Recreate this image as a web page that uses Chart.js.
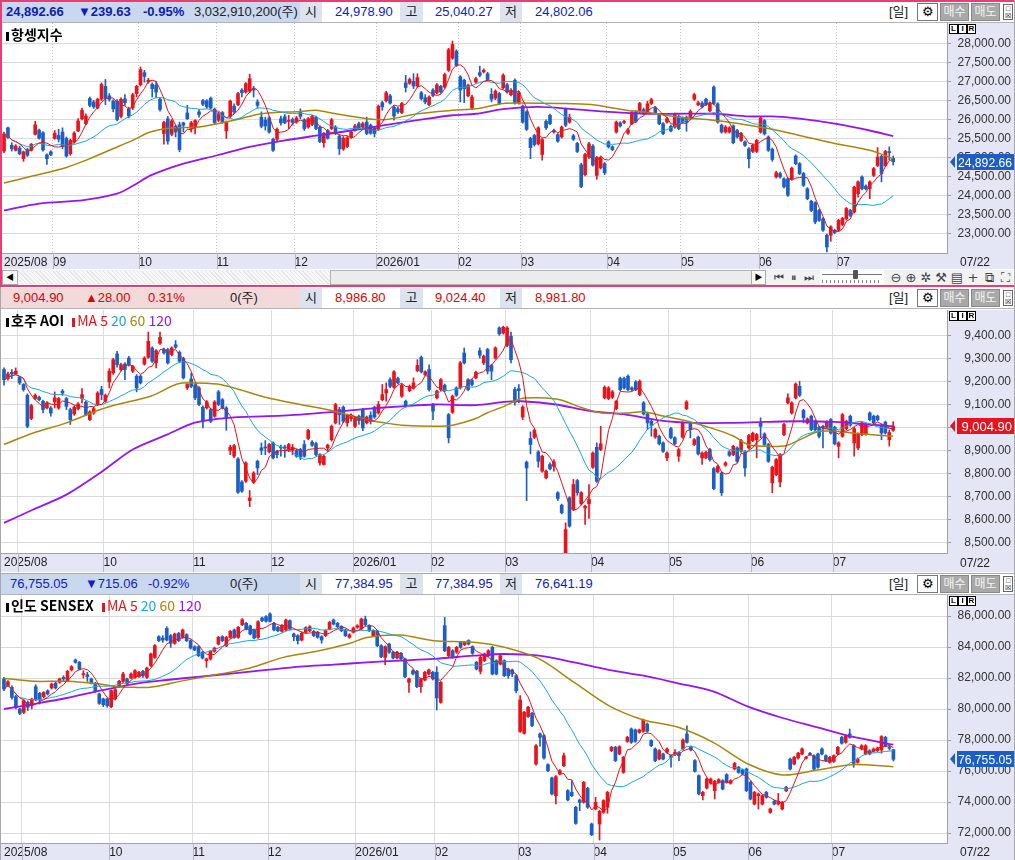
<!DOCTYPE html>
<html><head><meta charset="utf-8">
<script src="https://cdn.jsdelivr.net/npm/chart.js@4.4.1/dist/chart.umd.min.js"></script>
<style>
body{margin:0;background:#fff;width:1015px;height:860px;overflow:hidden;position:relative;font-family:"Liberation Sans","Noto Sans CJK KR",sans-serif;}
.a{position:absolute;white-space:nowrap;}
canvas{position:absolute;left:0;}
.t{position:absolute;white-space:nowrap;font-size:13px;line-height:20px;}
.lbl{position:absolute;height:20px;background:#dde3ee;text-align:center;font-size:13px;line-height:20px;color:#222;}
.btn{position:absolute;height:16px;top:2px;font-size:12px;line-height:16px;text-align:center;}
.lir{position:absolute;font-size:8px;font-weight:bold;line-height:8px;}
.lir span{display:inline-block;width:7px;height:8px;border:1px solid #000;margin-right:0px;text-align:center;background:#fff;}
.ttl{position:absolute;font-size:14px;white-space:nowrap;font-family:"Noto Sans CJK KR","Liberation Sans",sans-serif;line-height:16px;}
.bar{display:inline-block;width:3px;height:9px;margin-right:2px;vertical-align:-1px;}
.ic{position:absolute;top:270px;font-size:13px;line-height:15px;color:#444;text-align:center;width:14px;font-family:"DejaVu Sans",sans-serif;}
</style>
</head><body>
<canvas id="c1" width="1015" height="246" style="top:23px"></canvas>
<canvas id="c2" width="1015" height="262" style="top:310px"></canvas>
<canvas id="c3" width="1015" height="265" style="top:595px"></canvas>
<div id="ov"></div>
<script>
// ===== 항셍지수 (HSI) =====
const hsiOpen=[25170,25780,25320,25190,25250,24970,25210,25190,25610,25720,
25650,25070,25150,25500,25580,25670,25500,25100,25410,25700,
26020,25890,26550,26460,26310,26530,26870,26620,26480,26480,
26080,26540,26280,26300,26680,26910,27230,26990,26920,26900,
26530,25630,26020,25610,25820,25860,25910,26170,25760,25780,
26200,26490,26490,26560,26270,25980,26180,25700,26080,26350,
26390,26770,26720,26740,26810,26460,26060,25980,26040,25480,
25480,26020,26070,25950,26000,25930,26200,25990,25800,25870,
26060,25800,25390,25710,25760,25800,25560,25220,25290,25540,
25720,25890,25800,25930,25850,25780,25740,26440,26490,26620,
26320,26280,26180,26960,26950,27000,26880,26700,26570,26390,
26770,26700,26870,26850,27290,27610,27790,27120,27030,26620,
26300,26980,27230,27250,27200,26660,26560,26680,26830,26910,
26650,27030,26430,26350,26200,25500,25580,25360,25080,25950,
26110,25710,25600,25540,26270,25930,25570,25370,24810,24550,
25020,25300,24530,24730,24840,25410,25280,25670,25910,25920,
25640,25890,26200,26200,26260,26200,26420,26300,26110,25890,
25930,25820,25800,26080,26040,26060,26020,26530,26390,26430,
26530,26230,26850,26410,25850,25670,25670,25830,25710,25450,
25410,25230,25160,25160,25670,25970,25540,25220,24490,24580,
24440,24440,24440,25040,24840,24580,24180,23850,23810,23610,
23390,22960,22960,23090,23090,23240,23390,23610,23570,24050,
24490,24250,24180,24530,24790,25030,24790,25150,24978.90];
const hsiClose=[25620,25530,25230,25300,25100,25150,25060,25350,25860,25510,
25200,24970,25080,25640,25480,25300,25040,25450,25640,25960,
26240,26090,26370,26330,26530,26920,26550,26530,26280,26000,
26530,26440,26090,26650,26870,27310,27130,27030,26810,26720,
26260,25920,25430,25960,25670,25210,25850,26020,25910,25970,
26130,26400,26330,26300,25920,26150,25930,25930,26480,26200,
26680,26700,26940,27070,26770,26370,25820,25830,25670,25190,
25740,25910,25910,25960,25920,26040,26080,25760,26020,26080,
25760,25420,25630,25510,25990,25630,25230,25510,25520,25670,
25830,25760,25890,25630,25640,25630,26350,26330,26700,26430,
26090,26200,26420,26840,27050,26880,27100,26550,26460,26590,
26630,26910,26720,27180,27830,27970,27420,26770,26810,26900,
26590,27070,27160,27290,27050,26530,26740,26420,27160,26720,
26770,26430,26700,25930,25740,25260,25340,25780,25470,25780,
25890,25670,25430,25800,25850,26060,25480,25160,24240,25080,
25360,24800,25000,24990,24600,25280,25210,25930,25830,25950,
25730,26180,25950,26420,26170,26410,26520,26180,25890,25630,
26020,25700,26130,25760,25930,25930,26210,26650,26440,26330,
26390,26420,26420,25930,25670,25800,25780,25390,25540,25630,
25320,24970,25320,25450,26040,25620,25190,24950,24600,24490,
24230,24010,24720,24840,24580,24270,23920,23610,23310,23350,
23090,22650,23180,23030,23350,23400,23660,23480,24220,24360,
24180,24180,24360,24710,25010,24580,25160,25130,24892.66];
const hsiHigh=[25670,25800,25390,25340,25300,25170,25240,25370,25950,25750,
25680,25100,25180,25710,25740,25780,25540,25480,25680,26020,
26300,26150,26590,26500,26560,26960,27050,26680,26520,26520,
26570,26650,26320,26690,26900,27380,27290,27080,26960,26990,
26570,25960,26080,26000,25850,25930,25930,26370,25950,26000,
26260,26530,26520,26590,26300,26190,26210,25960,26510,26410,
26710,26810,26970,27190,26870,26520,26200,26060,26080,25510,
25780,26090,26130,26110,26040,26080,26280,26020,26050,26110,
26090,25830,25660,25740,26030,25840,25590,25550,25550,25710,
25870,25930,25930,26060,25880,25810,26380,26480,26740,26660,
26350,26320,26450,27160,27090,27200,27200,26740,26650,26620,
26810,26940,26900,27220,27870,28060,27830,27150,27060,26930,
26640,27110,27400,27330,27240,26810,26780,26710,27200,26950,
26810,27070,26740,26380,26230,25530,25610,25810,25500,25990,
26140,25750,25630,25830,26300,26140,25610,25400,24850,25110,
25400,25340,25030,25020,24870,25440,25310,25960,25940,25980,
25770,26210,26230,26450,26300,26480,26560,26340,26140,25920,
26060,25850,26170,26110,26070,26090,26250,26690,26480,26470,
26560,26460,26880,26440,25880,25840,25810,25860,25740,25660,
25440,25260,25350,25480,26080,26000,25570,25250,24640,24620,
24470,24470,24750,25070,24870,24610,24210,23880,23840,23640,
23420,22990,23210,23120,23380,23430,23690,23640,24250,24390,
24520,24280,24390,24740,25260,25060,25190,25280,25040.27];
const hsiLow=[25130,25500,25170,25170,25070,24900,25030,25170,25590,25480,
25170,24820,25050,25480,25410,25230,25010,25060,25380,25680,
25990,25860,26330,26290,26280,26500,26390,26480,26200,25960,
26040,26370,26040,26260,26590,26880,26980,26950,26590,26570,
26220,25350,25350,25570,25540,25150,25670,26000,25670,25620,
26060,26360,26290,26280,25890,25940,25900,25500,26050,26150,
26360,26590,26690,26710,26590,26300,25780,25720,25640,25160,
25430,25850,25890,25760,25850,25900,26020,25710,25770,25840,
25730,25390,25270,25480,25730,25600,25080,25190,25260,25510,
25690,25730,25770,25600,25610,25540,25710,26240,26460,26400,
25980,26160,26150,26720,26920,26810,26850,26510,26410,26360,
26600,26670,26690,26820,27260,27580,27390,26460,26440,26590,
26260,26950,27120,27220,27020,26460,26520,26390,26800,26690,
26620,26400,26400,25900,25710,24970,25300,25330,24930,25740,
25860,25640,25400,25510,25810,25900,25450,25130,24210,24520,
24980,24770,24430,24700,24550,25250,25180,25640,25800,25890,
25610,25860,25920,26170,26140,26170,26390,26150,25860,25600,
25900,25670,25770,25730,25900,25690,25990,26500,26360,26300,
26360,26200,26390,25900,25640,25640,25640,25360,25510,25420,
25290,24730,25130,25130,25640,25590,25160,24900,24460,24460,
24200,23980,24410,24810,24550,24240,23890,23580,23260,23320,
23060,22520,22800,23000,23060,23210,23360,23450,23540,23960,
24150,24150,23920,24500,24760,24360,24760,24940,24802.06];
const hsiMonthStart=[13,35,55,75,96,117,133,155,174,194,214];
const hsiMonthLabels=['2025/08','09','10','11','12','2026/01','02','03','04','05','06','07'];
const hsiMa60Idx=[0,7.5,16,22,27,33,37.5,43.5,50,59,66,76,80,85,93,98,106,115,121,128,133,142,150.5,159.5,164,173,182,191,197,204,213,222,228];
const hsiMa60=[24330,24520,24740,24970,25190,25450,25670,25780,25800,25980,26150,26210,26240,26150,26020,26000,26150,26240,26280,26420,26430,26420,26390,26240,26200,26060,25980,25850,25740,25580,25370,25190,24970];
const hsiMa120Idx=[0,9,20.4,29,33.3,37.6,46,54.7,63,72,80.4,89,97.6,106,115,121,128,137,146,155,164,173,182,191,197,204,213,222,228];
const hsiMa120=[23610,23790,23880,24050,24270,24530,24840,25060,25280,25450,25580,25710,25850,25980,26110,26150,26270,26330,26270,26200,26150,26150,26150,26080,26080,26020,25890,25710,25560];
const hsiYTicks=[23000,23500,24000,24500,25000,25500,26000,26500,27000,27500,28000];

// ===== 호주 AOI =====
const aoiOpen=[9251,9212,9239,9232,9217,9186,9139,9038,9125,9130,
9113,9084,9084,9110,9084,9157,9125,9077,9058,9081,
9125,9109,9033,9062,9099,9164,9113,9197,9236,9319,
9251,9275,9301,9244,9222,9222,9275,9304,9345,9280,
9365,9338,9338,9316,9359,9326,9299,9171,9210,9183,
9171,9087,9084,9077,9048,9154,9120,9084,8899,8874,
8862,8762,8765,8681,8762,8852,8910,8913,8893,8932,
8895,8913,8913,8899,8899,8899,8903,8925,8951,8935,
8929,8845,8838,8910,8946,9019,9077,9087,9019,9038,
9004,9048,9077,9019,9052,9087,9062,9120,9149,9207,
9174,9212,9135,9113,9159,9171,9246,9304,9229,9251,
9099,9128,9164,9183,9055,9065,9171,9171,9323,9207,
9203,9215,9333,9280,9338,9269,9301,9432,9410,9356,
9396,9164,9168,9044,8848,8951,8956,8893,8809,8780,
8838,8830,8715,8661,8454,8693,8642,8768,8667,8649,
8667,8826,8913,8903,9128,9125,9130,9081,9212,9212,
9222,9171,9197,9142,9106,9058,9026,8957,8961,8932,
8867,8994,8954,8874,8957,9081,9015,8925,8957,8867,
8867,8903,8820,8806,8801,8835,8893,8881,8910,8896,
8893,8910,8942,8946,9019,8971,8925,8758,8794,8762,
8968,9106,9062,9128,9178,9073,9019,9048,9026,8999,
9004,9000,9033,9000,8917,8961,8994,9048,8932,8910,
8968,8971,9062,9048,9048,9009,9022,8946,8986.80];
const aoiClose=[9207,9232,9232,9244,9193,9164,9004,9094,9139,9120,
9077,9106,9062,9128,9125,9149,9091,9033,9087,9101,
9142,9055,9067,9081,9149,9142,9139,9244,9294,9272,
9272,9251,9272,9265,9171,9193,9301,9374,9287,9333,
9391,9323,9280,9345,9348,9287,9215,9186,9178,9128,
9099,9026,9110,9026,9110,9099,9084,9041,8913,8920,
8717,8722,8845,8693,8801,8823,8899,8910,8925,8867,
8881,8910,8910,8925,8913,8874,8871,8874,8986,8922,
8881,8881,8874,8922,9004,9099,9055,9026,9052,9048,
9041,9029,8997,9044,9026,9044,9099,9142,9164,9178,
9241,9193,9183,9091,9178,9193,9269,9241,9241,9164,
9070,9157,9207,9159,8954,9135,9139,9280,9280,9164,
9186,9239,9313,9309,9244,9244,9345,9406,9435,9432,
9294,9109,9159,9088,8823,8925,8986,8852,8874,8809,
8819,8849,8690,8628,8555,8570,8751,8715,8715,8656,
8686,8888,8765,8928,9174,9171,9154,9113,9164,9171,
9164,9164,9164,9200,9058,9019,9009,8990,8928,8895,
8888,8954,8928,8903,9019,9110,8990,8946,8884,8888,
8891,8859,8733,8829,8715,8845,8878,8917,8852,8942,
8823,8964,8974,8968,9004,8925,8852,8826,8859,8881,
9012,9128,9106,9188,9139,9041,9036,8990,8990,8961,
8997,9023,8975,8928,8932,9055,9026,9009,8994,8971,
9019,9012,9033,9019,9033,8975,8975,8977,9004.90];
const aoiHigh=[9258,9240,9251,9258,9222,9190,9145,9100,9145,9136,
9118,9112,9090,9154,9130,9164,9130,9083,9093,9107,
9168,9115,9072,9087,9155,9178,9145,9255,9300,9330,
9279,9281,9308,9270,9229,9228,9307,9414,9350,9338,
9414,9344,9344,9350,9377,9332,9305,9190,9236,9188,
9177,9093,9116,9083,9116,9160,9125,9090,8922,8926,
8868,8768,8850,8725,8807,8857,8932,8942,8930,8937,
8900,8922,8922,8930,8925,8904,8908,8942,8991,8942,
8935,8886,8879,8927,9010,9104,9087,9093,9057,9058,
9046,9053,9082,9049,9067,9092,9113,9186,9193,9215,
9247,9218,9188,9118,9184,9215,9294,9310,9246,9272,
9104,9162,9212,9188,9060,9140,9176,9286,9345,9212,
9210,9244,9345,9314,9344,9274,9350,9437,9440,9438,
9414,9174,9186,9094,8853,8980,8991,8898,8879,8815,
8845,8859,8720,8666,8584,8698,8773,8773,8720,8661,
8751,8893,8932,9004,9180,9177,9160,9118,9218,9218,
9228,9176,9203,9206,9112,9063,9031,8995,8966,8937,
8893,9000,8959,8908,9024,9116,9020,8951,8962,8893,
8896,8908,8825,8834,8806,8850,8898,8922,8915,8947,
8898,8969,8979,8973,9041,8976,8930,8831,8864,8886,
9017,9145,9111,9193,9200,9078,9041,9053,9031,9004,
9009,9028,9038,9005,8937,9060,9031,9053,8999,8976,
9024,9017,9067,9053,9053,9014,9027,8988,9024.40];
const aoiLow=[9183,9205,9212,9228,9186,9157,8998,9033,9120,9115,
9062,9080,9048,9084,9078,9139,9077,9012,9052,9075,
9106,9050,9029,9056,9094,9120,9108,9171,9230,9261,
9245,9207,9266,9238,9154,9188,9270,9300,9282,9258,
9360,9318,9275,9310,9343,9282,9210,9164,9172,9120,
9094,8997,9079,9020,9043,9094,9079,8987,8881,8868,
8712,8716,8760,8655,8756,8794,8881,8881,8888,8862,
8867,8874,8869,8894,8881,8869,8859,8869,8946,8917,
8876,8835,8835,8895,8940,9014,9012,9020,9004,9026,
8998,9012,8985,9014,9014,9039,9057,9115,9113,9171,
9169,9188,9130,9087,9154,9166,9241,9236,9224,9157,
9033,9123,9159,9154,8932,9060,9134,9166,9275,9159,
9180,9210,9301,9272,9232,9207,9296,9400,9405,9350,
9280,9096,9106,9033,8681,8884,8951,8826,8804,8775,
8814,8809,8681,8623,8450,8565,8637,8704,8662,8577,
8603,8821,8760,8898,9123,9120,9125,9076,9159,9166,
9159,9159,9159,9137,9053,8990,8961,8952,8923,8890,
8855,8949,8923,8852,8952,9076,8954,8920,8879,8838,
8862,8852,8728,8801,8703,8830,8873,8876,8847,8891,
8787,8905,8937,8867,8954,8920,8847,8715,8789,8740,
8963,9101,9057,9123,9134,9019,9014,8985,8985,8954,
8910,8995,8970,8923,8867,8956,8989,9004,8874,8903,
8963,8966,9028,9014,9028,8946,8970,8918,8981.80];
const aoiMonthStart=[4,26,49,69,90,110,129,151,171,192,213];
const aoiMonthLabels=['2025/08','','10','11','12','2026/01','02','03','04','05','06','07'];
const aoiMa60Idx=[0,7.5,16,24.7,29,37.6,44.4,48.7,54.7,59,67.6,76,84.7,93,97.6,102,110.5,115,121,123.8,128.2,132.7,137.1,142.5,147.9,153.2,159.5,163.9,169.3,174.6,181.8,187.1,190.7,195.2,200.5,204.1,208.6,213,217.5,222,228];
const aoiMa60=[8925,8975,9019,9077,9099,9135,9188,9193,9188,9171,9128,9099,9070,9033,9019,9009,9004,9009,9038,9062,9091,9125,9128,9120,9087,9062,9062,9067,9048,9029,8994,8961,8925,8917,8920,8946,8980,8983,8975,8968,8961];
const aoiMa120Idx=[0,7.5,16,24.7,33,41.8,48.7,54.7,59,67.6,76,84.7,93,102,110.5,121,128.2,132.7,141.6,150.5,159.5,168.4,177.3,186.3,195.2,204.1,213,222,228];
const aoiMa120=[8584,8642,8707,8802,8903,8968,9019,9036,9043,9048,9055,9067,9080,9091,9099,9096,9110,9113,9099,9070,9055,9029,9019,9019,9023,9026,9023,9012,9004];
const aoiYTicks=[8500,8600,8700,8800,8900,9000,9100,9200,9300,9400];

// ===== 인도 SENSEX =====
const sxOpen=[81940,81510,81400,80800,80000,79790,80430,80220,81440,81010,
80790,81180,81360,81660,81720,82040,81830,82520,83160,83010,
82220,82210,81940,81660,80970,80650,80650,80150,80650,81440,
81780,81940,82000,82040,82090,82430,82040,82800,83330,84670,
84580,85200,84730,84240,84880,84620,84800,84410,84020,84020,
83660,83120,83230,83720,84190,84670,84080,84620,85100,84620,
85440,85530,85360,85100,84620,85870,85960,86130,85530,85270,
85010,85100,85700,84840,84730,84450,84950,85050,85010,84950,
84670,84730,85160,85740,85530,85330,85100,84620,84950,85270,
85160,85800,85380,84730,85010,84090,83330,84190,83660,83290,
83590,83230,81720,82470,82430,81440,81870,82260,82370,82370,
80430,85380,83440,83760,83660,84300,84150,84410,
84020,83010,82430,83120,83440,83980,83120,82900,83120,82580,
82520,82150,78560,78430,79510,79720,76450,78390,78280,76410,
75550,74410,75810,76340,74730,74620,73660,74130,73980,74880,
72580,73550,72580,73330,73660,77310,77530,77100,75910,77910,
78710,78650,78500,78560,79030,77960,77420,76770,77100,77210,
76990,77100,77200,77420,78390,77570,76670,75700,74410,74900,
75210,74730,75270,75380,75760,75210,76130,76240,76060,76130,
75270,73870,74410,73870,74620,73330,74040,73870,73550,74730,
76770,76450,76840,77100,76820,77140,76990,77100,77420,76990,
76560,76620,77100,78170,77850,78390,77630,76560,77420,77100,
77310,77270,77310,77360,78170,77480,77384.95];
const sxClose=[81290,81760,80750,80110,79720,80540,80110,80640,80580,80580,
81070,80970,81610,81360,81940,81940,82430,82730,83010,82580,
82260,82090,81660,81140,80360,80280,80220,81180,81250,81790,
82260,81660,82260,82470,82370,82150,82640,83550,84090,84410,
84450,84450,84240,84840,84410,85100,84410,83930,83810,83440,
83290,83230,83720,83930,84620,84410,84620,85010,84620,85270,
85760,85160,84840,84580,85630,85700,85660,85660,85100,85050,
85380,85740,85160,84670,84410,84880,85250,85310,84730,84620,
84450,85050,85590,85480,85310,85050,84730,84790,85230,85380,
85800,85440,85050,85050,84090,83380,84020,83660,83290,83660,
83230,82090,81940,82260,81440,81940,82370,82520,81940,80710,
81720,83760,83980,83330,83980,83980,84300,84190,
83590,82580,83330,83550,83760,82260,82260,83440,82150,82150,
82260,81180,80580,79790,80110,78930,77630,78170,76840,76020,
74520,75630,76020,76990,74130,74410,72620,73980,75270,73660,
71890,73980,73400,74090,74620,77530,76670,77570,76880,78170,
77850,77910,78650,79290,78560,77630,76670,77310,76770,77420,
76880,77200,76990,78000,77850,77360,75980,74520,74620,75480,
75480,75330,75440,74840,75270,75380,76490,75910,75810,74730,
74190,74620,74520,74410,74300,73550,73870,74040,73980,74950,
76130,76880,77140,77420,76880,77060,76130,76240,77100,76670,
76880,76990,77530,77790,78280,78170,76490,76770,77630,77630,
77100,77420,77480,78220,77630,77470,76755.05];
const sxHigh=[82040,81830,81500,80900,80050,80600,80520,80700,81570,81070,
81120,81240,81680,81720,82000,82150,82500,82800,83230,83070,
82470,82370,82000,81720,81030,80700,80700,81240,81310,81850,
82370,82000,82330,82540,82430,82500,82700,83610,84150,84730,
84730,85310,84800,84900,84950,85160,84860,84470,84080,84080,
83720,83290,83780,83990,84690,84730,84690,85070,85160,85330,
85830,85590,85420,85160,85700,85930,86020,86200,85590,85330,
85440,85800,85760,84900,84790,84950,85310,85380,85070,85010,
84730,85110,85660,85810,85590,85380,85160,84860,85290,85440,
85870,85990,85440,85110,85070,84150,84080,84260,83720,83720,
83660,83290,82000,82540,82500,82000,82430,82580,82430,82730,
81780,85910,84040,83830,84040,84370,84370,84470,
84080,83070,83400,83610,83830,84040,83180,83510,83180,82640,
82580,82220,80860,79850,80170,79790,77700,78460,78350,76470,
75610,75700,76090,77160,74800,75360,73720,74190,75330,74950,
72640,74300,73460,74150,74690,77590,77590,77630,76950,78240,
78780,78710,78710,79350,79100,78020,77490,77380,77160,77490,
77050,77380,77260,78070,78910,77630,76730,75760,74690,75550,
75550,75400,75510,75440,75830,75440,76560,76300,76130,76190,
75330,74690,74580,74470,74690,73610,74110,74560,74040,75010,
76840,76950,77210,77490,76950,77210,77050,77160,77490,77050,
76950,77050,77590,78240,78350,78710,77700,76840,77700,77700,
77380,77490,77550,78280,78240,77700,77384.95];
const sxLow=[81180,81440,80640,80000,79630,79700,79900,80000,80530,80320,
80730,80900,81290,81290,81660,81790,81760,82450,82950,82520,
82000,81780,81610,81070,80300,80150,80110,80080,80590,81380,
81720,81610,81940,81980,82040,82040,81980,82730,83260,84350,
84300,84390,83980,84170,84350,84560,84350,83870,83760,83380,
83230,82690,83160,83660,84130,84350,84020,84560,84560,84560,
85380,85100,84780,84520,84560,85640,85600,85600,85040,84990,
84950,85040,85100,84410,84190,84390,84900,84990,84670,84560,
84240,84670,85100,85420,85250,84990,84670,84560,84900,85210,
85100,85380,84990,84670,84020,83310,82860,83590,83230,83230,
83160,82020,81070,82200,81380,81070,81810,82200,81870,79940,
80370,83700,83380,83270,83590,83910,84090,84130,
83530,82520,82260,83060,83380,82200,82200,82840,82090,81980,
82090,81040,78490,78370,79450,78860,76380,77600,76770,75960,
74460,73870,75740,76280,74070,74350,72560,73440,73920,73590,
71830,73490,71550,73270,73270,77250,76610,77040,75850,77850,
77780,77850,78430,78500,78500,77570,76610,76710,76710,77150,
76240,76990,76670,77360,77790,77300,75920,74460,74130,74840,
75150,74190,75210,74780,75210,75150,76070,75850,75740,74670,
74130,73810,73550,73810,74240,73270,73810,73810,73490,74670,
76070,76390,76770,77040,76770,77000,76070,76180,77040,76610,
76500,76560,77040,77730,77790,78110,76240,76500,77360,77040,
77040,77210,77250,77150,77570,77360,76641.19];
const sxMonthStart=[5,27,48,67,89,109,130,149,169,188,209];
const sxMonthLabels=['2025/08','','10','11','12','2026/01','02','03','04','05','06','07'];
const sxMa60Idx=[0,7.4,15.8,24.2,28.4,32.6,36.8,45.2,53.6,62,70.4,78.8,87.2,91.4,99.8,108.2,118.3,126,134.8,143.6,152.3,161.1,169.8,178.6,187.4,196.1,204.9,213.6,224];
const sxMa60=[81980,81790,81790,81610,81440,81400,81400,81830,82220,82650,83330,83720,84240,84620,84770,84410,84300,83980,83230,81720,80220,79290,78820,77850,76450,75740,76060,76410,76280];
const sxMa120Idx=[0,7.4,15.8,24.2,32.6,41,49.4,57.8,66.2,74.6,83,91.4,99.8,108.2,118.3,126,134.8,143.6,152.3,161.1,169.8,178.6,187.4,196.1,204.9,213.6,224];
const sxMa120=[80000,80320,80710,81180,81610,81870,82090,82300,82520,82730,82860,83010,83120,83230,83440,83550,83440,83010,82520,82150,81660,81140,80150,79420,78820,78210,77700];
const sxYTicks=[72000,74000,76000,78000,80000,82000,84000,86000];

// ===== rendering =====
const RED='#e8141c', BLUE='#1b5fc6';
const FONT="'Liberation Sans','Noto Sans CJK KR',sans-serif";
const LAV='#e5e6f5';
function sma(arr,n){return arr.map((_,i)=>{const s=Math.max(0,i-n+1);let t=0;for(let k=s;k<=i;k++)t+=arr[k];return t/(i-s+1);});}
const fmt=v=>Number(v).toLocaleString('en-US',{minimumFractionDigits:2,maximumFractionDigits:2});
const pts=(xs,ys)=>ys.map((y,i)=>({x:xs[i],y}));

function panel(id,d){
  const col=d.close.map((c,i)=>c>=d.open[i]?RED:BLUE);
  const idx=d.close.map((_,i)=>i);
  const ma5=sma(d.close,5), ma20=sma(d.close,20);
  const plug={id:'p'+id,
    beforeDraw(ch){const c=ch.ctx,a=ch.chartArea;c.save();c.fillStyle=LAV;c.fillRect(0,0,ch.width,ch.height);c.fillStyle='#fff';c.fillRect(a.left,a.top,a.right-a.left,a.bottom-a.top);c.restore();},
    afterDraw(ch){
      const c=ch.ctx,a=ch.chartArea,xs=ch.scales.x,ys=ch.scales.y;
      c.save();c.strokeStyle='#b4b4c6';c.lineWidth=1;
      xs.ticks.forEach((t,i)=>{if(i===0)return;const px=Math.round(xs.getPixelForValue(t.value))+0.5;c.beginPath();c.moveTo(px,a.bottom);c.lineTo(px,ch.height);c.stroke();});
      const v=d.close[d.close.length-1];const py=Math.round(ys.getPixelForValue(v));
      const x0=a.right+3;c.fillStyle=d.tag;
      c.beginPath();c.moveTo(x0,py);c.lineTo(x0+5,py-6);c.lineTo(x0+5,py+6);c.closePath();c.fill();
      const bx=x0+7,bw=ch.width-bx-1;
      c.fillRect(bx,py-8,bw,16);
      c.fillStyle='#fff';c.font="13px "+FONT;c.textBaseline='middle';
      const txt=fmt(v),w=c.measureText(txt).width,sc=Math.min(1,(bw-3)/w);
      c.translate(bx+bw-2,py+1);c.scale(sc,1);c.textAlign='right';c.fillText(txt,0,0);
      c.restore();
    }};
  new Chart(document.getElementById(id),{
    type:'bar',
    data:{datasets:[
      {type:'line',data:pts(idx,ma5),borderColor:'#e4141c',borderWidth:1,pointRadius:0,order:1},
      {type:'line',data:pts(idx,ma20),borderColor:'#1aa8d6',borderWidth:1,pointRadius:0,order:2},
      {type:'line',data:pts(d.ma60x,d.ma60),borderColor:'#a8860c',borderWidth:1.5,pointRadius:0,tension:0.3,order:3},
      {type:'line',data:pts(d.ma120x,d.ma120),borderColor:'#9416f2',borderWidth:1.8,pointRadius:0,tension:0.3,order:4},
      {data:idx.map(i=>({x:i,y:[d.open[i],d.close[i]]})),backgroundColor:col,barThickness:3,minBarLength:1,grouped:false,order:10},
      {data:idx.map(i=>({x:i,y:[d.low[i],d.high[i]]})),backgroundColor:col,barThickness:1,grouped:false,order:11}
    ]},
    options:{responsive:false,animation:false,devicePixelRatio:1,
      layout:{autoPadding:false,padding:{left:0,right:4,top:0,bottom:0}},
      plugins:{legend:{display:false},tooltip:{enabled:false}},
      scales:{
        x:{type:'linear',min:d.xmin,max:d.xmax,offset:false,
          afterBuildTicks:s=>{s.ticks=[{value:0}].concat(d.months.map(m=>({value:m-0.5})));},
          afterFit:s=>{s.height=d.strip;s.paddingLeft=0;s.paddingRight=0;},
          ticks:{autoSkip:false,maxRotation:0,minRotation:0,align:'start',padding:2,color:'#222',font:{size:12,family:FONT},callback:(v,i)=>d.labels[i]},
          grid:{color:c=>c.index===0?'rgba(0,0,0,0)':d.vgrid,drawTicks:false,offset:false},
          border:{display:true,color:'#a0a0a8',dash:d.dotted?[1,2]:[]}},
        y:{position:'right',min:d.ymin,max:d.ymax,
          afterBuildTicks:s=>{s.ticks=d.yticks.map(v=>({value:v}));},
          afterFit:s=>{s.width=64;s.paddingTop=0;s.paddingBottom=0;},
          ticks:{crossAlign:'far',color:'#333',font:{size:12,family:FONT},callback:v=>fmt(v)},
          grid:{color:'#dadada',drawTicks:true,tickLength:4,tickColor:'#9a9aa8'},
          border:{color:'#a0a0a8'}}
      }},
    plugins:[plug]});
}

panel('c1',{open:hsiOpen,close:hsiClose,high:hsiHigh,low:hsiLow,months:hsiMonthStart,labels:hsiMonthLabels,
  ma60x:hsiMa60Idx,ma60:hsiMa60,ma120x:hsiMa120Idx,ma120:hsiMa120,yticks:hsiYTicks,
  ymin:22493,ymax:28533,xmin:-1.03,xmax:241.8,strip:16,dotted:true,vgrid:'#c4c4c4',tag:'#1b5fc6'});
panel('c2',{open:aoiOpen,close:aoiClose,high:aoiHigh,low:aoiLow,months:aoiMonthStart,labels:aoiMonthLabels,
  ma60x:aoiMa60Idx,ma60:aoiMa60,ma120x:aoiMa120Idx,ma120:aoiMa120,yticks:aoiYTicks,
  ymin:8453,ymax:9510,xmin:-1.03,xmax:241.8,strip:19,dotted:false,vgrid:'#dcdcdc',tag:'#e8141c'});
panel('c3',{open:sxOpen,close:sxClose,high:sxHigh,low:sxLow,months:sxMonthStart,labels:sxMonthLabels,
  ma60x:sxMa60Idx,ma60:sxMa60,ma120x:sxMa120Idx,ma120:sxMa120,yticks:sxYTicks,
  ymin:71355,ymax:87355,xmin:-1.0,xmax:237.5,strip:17,dotted:false,vgrid:'#dcdcdc',tag:'#1b5fc6'});

// ===== header / overlays (text) =====
const ov=document.getElementById('ov');
function el(html){ov.insertAdjacentHTML('beforeend',html);}
function header(top,bg,items,vals,vcol){
  el(`<div class="a" style="left:1px;top:${top}px;width:1013px;height:20px;background:#fff"></div>`);
  el(`<div class="a" style="left:1px;top:${top}px;width:299px;height:20px;background:${bg}"></div>`);
  items.forEach(([x,txt,c,b])=>el(`<div class="t" style="left:${x}px;top:${top}px;color:${c};font-weight:${b?'bold':'normal'}">${txt}</div>`));
  [['시',300,22],['고',400,23],['저',500,22]].forEach(([t,x,w],k)=>{
    el(`<div class="lbl" style="left:${x}px;top:${top}px;width:${w}px">${t}</div>`);
    el(`<div class="t" style="left:${x+35}px;top:${top}px;color:${vcol}">${vals[k]}</div>`);
  });
  el(`<div class="t" style="left:889px;top:${top}px;color:#222">[일]</div>`);
  el(`<div class="btn" style="left:917px;top:${top+1}px;width:19px;border:1px solid #777;background:#fff;font-size:13px">⚙</div>`);
  el(`<div class="btn" style="left:940px;top:${top+1}px;width:27px;border:1px solid #888;background:#a9a9a9;color:#f4f4f4">매수</div>`);
  el(`<div class="btn" style="left:971px;top:${top+1}px;width:27px;border:1px solid #888;background:#a9a9a9;color:#f4f4f4">매도</div>`);
  el(`<div class="btn" style="left:1003px;top:${top+2}px;width:8px;height:14px;border:1px solid #666;background:#fff;font-size:7px;line-height:7px">□<br>☒</div>`);
  el(`<div class="a" style="left:1px;top:${top+20}px;width:1013px;height:1px;background:#b4b4b4"></div>`);
}
header(2,'#c9d7ef',[[6,'24,892.66','#0c1eb0',1],[78,'▼239.63','#0c1eb0',1],[143,'-0.95%','#0c1eb0',1],[194,'3,032,910,200(주)','#222',0]],['24,978.90','25,040.27','24,802.06'],'#1020c8');
header(288,'#f2d9da',[[13,'9,004.90','#e00000',0],[85,'▲28.00','#e00000',0],[148,'0.31%','#e00000',0],[230,'0(주)','#222',0]],['8,986.80','9,024.40','8,981.80'],'#e00000');
header(574,'#c9d7ef',[[10,'76,755.05','#1020c8',0],[85,'▼715.06','#1020c8',0],[148,'-0.92%','#1020c8',0],[230,'0(주)','#222',0]],['77,384.95','77,384.95','76,641.19'],'#1020c8');

// titles
el(`<div class="ttl" style="left:6px;top:26px;font-weight:bold"><span class="bar" style="background:#000"></span>항셍지수</div>`);
const leg=`<span style="font-weight:normal;margin-left:8px"><span class="bar" style="background:#e4141c"></span><span style="color:#e4141c">MA 5</span> <span style="color:#1aa8d6">20</span> <span style="color:#a8860c">60</span> <span style="color:#9416f2">120</span></span>`;
el(`<div class="ttl" style="left:6px;top:312px"><b><span class="bar" style="background:#000"></span>호주 AOI</b>${leg}</div>`);
el(`<div class="ttl" style="left:6px;top:597px"><b><span class="bar" style="background:#000"></span>인도 SENSEX</b>${leg}</div>`);

// LIR boxes and date corner
[[24],[311],[596]].forEach(([t])=>el(`<div class="lir" style="left:949px;top:${t}px"><span>L</span><span>I</span><span>R</span></div>`));
[[254],[555],[844]].forEach(([t])=>el(`<div class="a" style="left:960px;top:${t}px;font-size:12px;line-height:16px;color:#222">07/22</div>`));

// scrollbar row
el(`<div class="a" style="left:2px;top:270px;width:1011px;height:15px;background:#f2f2f2"></div>`);
el(`<div class="a" style="left:2px;top:270px;width:14px;height:13px;border:1px solid #aaa;background:#fafafa;font-size:8px;line-height:13px;text-align:center">◀</div>`);
el(`<div class="a" style="left:18px;top:271px;width:312px;height:13px;background:repeating-linear-gradient(45deg,#e6e6e6 0 1px,#f8f8f8 1px 3px)"></div>`);
el(`<div class="a" style="left:330px;top:270px;width:420px;height:13px;border:1px solid #b4b4b4;background:#ececec"></div>`);
el(`<div class="a" style="left:751px;top:270px;width:13px;height:13px;border:1px solid #aaa;background:#fafafa;font-size:8px;line-height:13px;text-align:center">▶</div>`);
[[772,'⏮'],[787,'⏸'],[802,'⏭']].forEach(([x,g])=>el(`<div class="ic" style="left:${x}px;font-size:11px">${g}</div>`));
el(`<div class="a" style="left:820px;top:270px;width:64px;height:15px;background:#fff"></div>`);
el(`<div class="a" style="left:822px;top:274px;width:60px;height:1px;background:#777"></div>`);
el(`<div class="a" style="left:822px;top:280px;width:60px;height:3px;background:repeating-linear-gradient(90deg,#888 0 1px,transparent 1px 4px)"></div>`);
el(`<div class="a" style="left:853px;top:270px;width:5px;height:9px;background:#555;border-radius:1px"></div>`);
[[889,'⊖'],[904,'⊕'],[919,'✲'],[934,'⚒'],[950,'▤'],[966,'+'],[982,'⧉'],[998,'⛶']].forEach(([x,g])=>el(`<div class="ic" style="left:${x}px">${g}</div>`));

// frames
el(`<div class="a" style="left:0;top:0;width:1015px;height:2px;background:#ea3d73"></div>`);
el(`<div class="a" style="left:0;top:0;width:2px;height:287px;background:#ea3d73"></div>`);
el(`<div class="a" style="left:0;top:285px;width:1015px;height:2px;background:#ea3d73"></div>`);
el(`<div class="a" style="left:0;top:287px;width:1px;height:573px;background:#a8a8a8"></div>`);
el(`<div class="a" style="left:1014px;top:0;width:1px;height:860px;background:#a8a8a8"></div>`);
el(`<div class="a" style="left:0;top:573px;width:1015px;height:1px;background:#a8a8a8"></div>`);
</script>
</body></html>
